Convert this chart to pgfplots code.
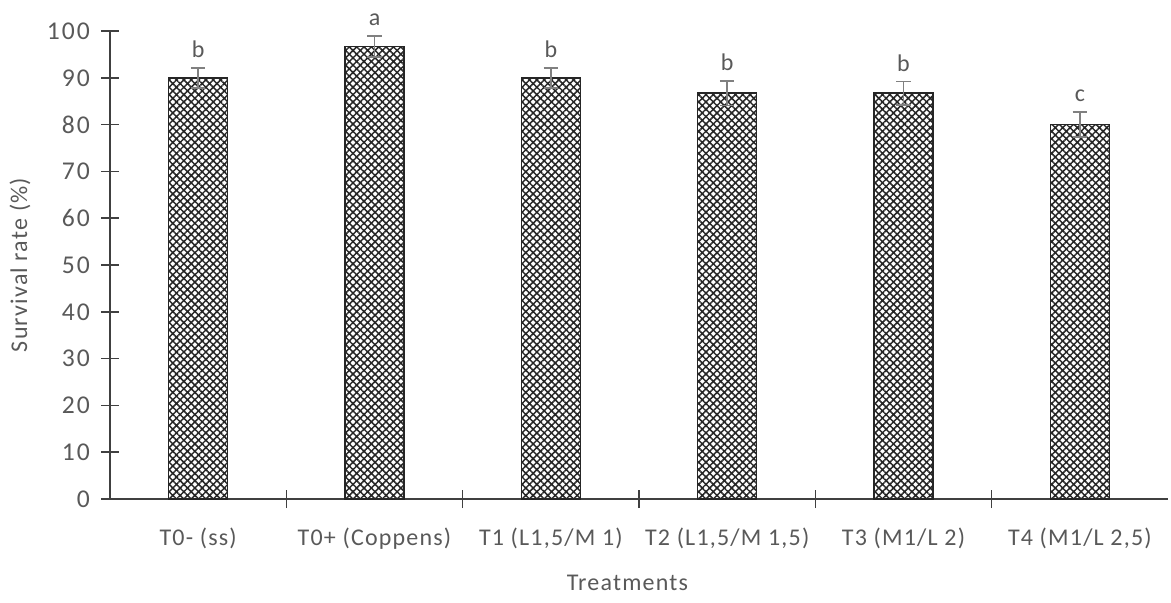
\documentclass[border=0pt]{standalone}
\usepackage{pgfplots}
\pgfplotsset{compat=1.18}
\usepackage{fontspec}
\setmainfont{Carlito}[LetterSpace=5]
\newfontfamily\tickfont{Carlito}[LetterSpace=8]
\usetikzlibrary{patterns,patterns.meta}
\definecolor{txt}{HTML}{595959}
\definecolor{axc}{HTML}{404040}
\begin{document}
\begin{tikzpicture}
\begin{axis}[
  scale only axis,
  width=529pt, height=234pt,
  xmin=-0.5, xmax=5.5,
  ymin=0, ymax=100,
  ytick={0,10,...,100},
  xtick={0.5,1.5,2.5,3.5,4.5},
  xticklabels={},
  extra x ticks={0,1,2,3,4,5},
  extra x tick labels={T0- (ss),T0+ (Coppens),{T1 (L1,5/M 1)},{T2 (L1,5/M 1,5)},{T3 (M1/L 2)},{T4 (M1/L 2,5)}},
  extra x tick style={major tick length=0pt},
  axis x line*=bottom, axis y line*=left,
  xtick align=center, ytick align=center,
  axis line style={axc, line width=0.8pt},
  tick style={axc, line width=0.8pt},
  major tick length=9pt,
  every tick label/.append style={text=txt, font=\fontsize{12}{14}\selectfont},
  yticklabel style={font=\tickfont\fontsize{12.8}{14}\selectfont, xshift=-2pt},
  /pgf/number format/assume math mode=true,
  xticklabel style={yshift=-11pt},
  ylabel={Survival rate (\%)},
  xlabel={Treatments},
  label style={text=txt, font=\fontsize{12}{14}\selectfont},
  ylabel style={at={(axis description cs:-0.085,0.5)}, anchor=center, rotate=0},
  xlabel style={at={(axis description cs:0.489,-0.18)}, anchor=center},
  clip=false,
]
\addplot[ybar, bar width=29.5pt, bar shift=0pt, draw=black!85, line width=0.8pt,
  fill=white, pattern={Hatch[angle=45,distance=2.6pt,line width=0.75pt]}, pattern color=black!85,
  error bars/.cd, y dir=both, y explicit,
  error bar style={color=gray, line width=0.9pt},
  error mark options={rotate=90, mark size=3.6pt, gray, line width=0.9pt}]
  coordinates {
  (0,90) +- (0,2.1)
  (1,96.7) +- (0,2.3)
  (2,90) +- (0,2.1)
  (3,86.7) +- (0,2.6)
  (4,86.7) +- (0,2.5)
  (5,80) +- (0,2.7)
  };
\addplot[draw=none, mark=none, nodes near coords, point meta=explicit symbolic,
  every node near coord/.append style={text=txt, font=\fontsize{12}{14}\selectfont, anchor=south, yshift=1.5pt}]
  coordinates {
  (0,92.1) [b]
  (1,99.0) [a]
  (2,92.1) [b]
  (3,89.3) [b]
  (4,89.2) [b]
  (5,82.7) [c]
  };
\end{axis}
\pgfresetboundingbox
\path ([shift={(-55pt,-51.5pt)}]current axis.south west) rectangle ([shift={(1.5pt,15.5pt)}]current axis.north east);
\end{tikzpicture}
\end{document}
